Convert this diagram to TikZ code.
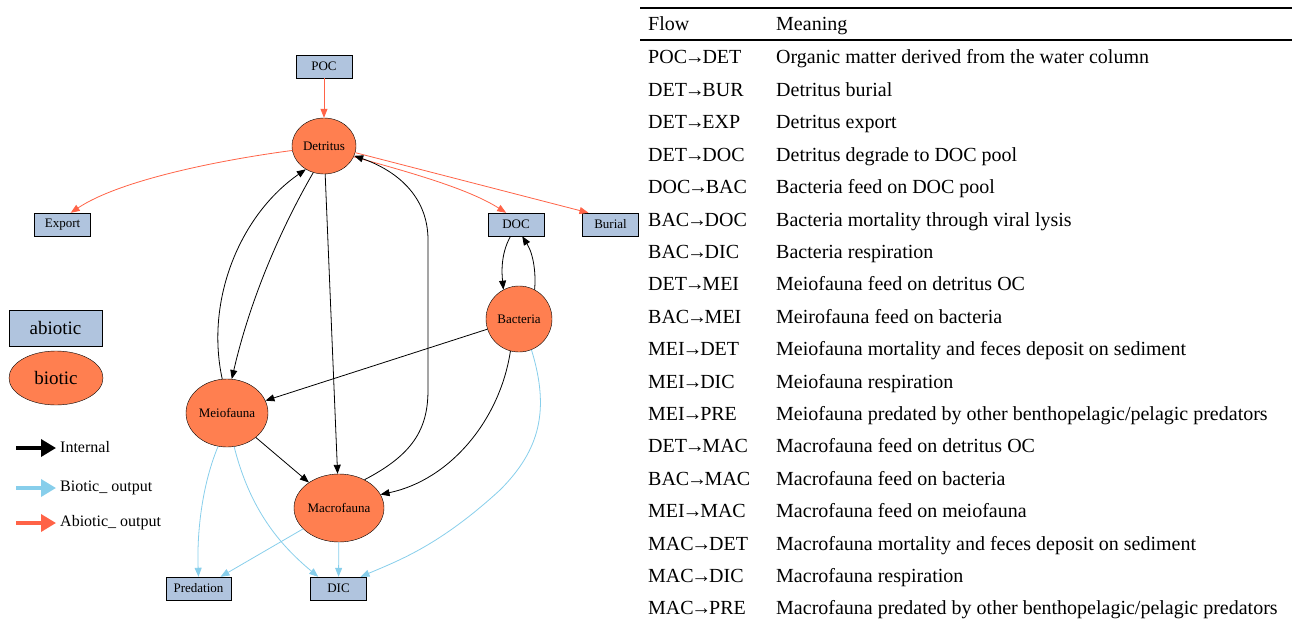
\documentclass[tikz,border=0pt]{standalone}
\usepackage{fontspec}
\setmainfont{Liberation Serif}
\usetikzlibrary{shapes.geometric,arrows.meta}
\definecolor{boxblue}{HTML}{B0C4DE}
\definecolor{biofill}{HTML}{FF7F50}
\definecolor{abiored}{HTML}{FF6347}
\definecolor{bioblue}{HTML}{87CEEB}
\newcommand{\flowto}[2]{#1\kern-2.3pt→\kern-2.3pt#2}
\tikzset{
  abio/.style={draw, fill=boxblue, rectangle, minimum width=56, minimum height=23, inner sep=0, font=\fontsize{13}{15}\selectfont},
  bio/.style={draw, fill=biofill, ellipse, inner sep=0, font=\fontsize{13}{15}\selectfont},
  arr/.style={-{Triangle[length=9,width=7]}, line width=0.8},
  internal/.style={arr, black},
  abioout/.style={arr, abiored},
  bioout/.style={arr, bioblue},
  legarr/.style={-{Triangle[length=15,width=17]}, line width=3.5},
  legtxt/.style={anchor=west, inner sep=0, font=\fontsize{16}{18}\selectfont},
  tab/.style={anchor=base west, inner sep=0, font=\fontsize{20}{22}\selectfont},
}
\begin{document}
\begin{tikzpicture}[x=1pt,y=-1pt]
\useasboundingbox (0,0) rectangle (1292,623);

% nodes
\node[abio] (poc) at (324,66.5) {POC};
\node[bio, minimum width=64, minimum height=56] (det) at (324,146) {Detritus};
\node[abio] (exp) at (62.5,224.5) {Export};
\node[abio] (doc) at (516,224.5) {DOC};
\node[abio] (bur) at (610.5,224.5) {Burial};
\node[bio, minimum width=66, minimum height=66] (bac) at (519,319) {Bacteria};
\node[bio, minimum width=82, minimum height=68] (meio) at (227,413) {Meiofauna};
\node[bio, minimum width=90, minimum height=68] (mac) at (339,508) {Macrofauna};
\node[abio, minimum width=65] (pred) at (198.5,588.5) {Predation};
\node[abio] (dic) at (338.5,588.5) {DIC};

% legend
\node[draw, fill=boxblue, rectangle, minimum width=93, minimum height=36, inner sep=0, font=\fontsize{19}{21}\selectfont] (labio) at (55.5,328) {abiotic};
\node[draw, fill=biofill, ellipse, minimum width=94, minimum height=54, inner sep=0, font=\fontsize{19}{21}\selectfont] (lbio) at (56,378) {biotic};
\coordinate (l1s) at (16,448); \coordinate (l1e) at (56,448);
\coordinate (l2s) at (16,488); \coordinate (l2e) at (56,488);
\coordinate (l3s) at (16,523); \coordinate (l3e) at (56,523);
\draw[legarr, black] (l1s) -- (l1e);
\draw[legarr, bioblue] (l2s) -- (l2e);
\draw[legarr, abiored] (l3s) -- (l3e);
\node[legtxt] (t1) at (60,447.5) {Internal};
\node[legtxt] (t2) at (60,487.5) {Biotic\_ output};
\node[legtxt] (t3) at (60,522.5) {Abiotic\_ output};

% abiotic outputs
\draw[abioout] (poc) -- (det);
\draw[abioout] (det.188) .. controls (220,160) and (120,180) .. (exp.55);
\draw[abioout] (det.-20) .. controls (420,175) and (470,190) .. (doc.130);
\draw[abioout] (det.-12) -- (bur.152);

% internal
\draw[internal] (meio.98) .. controls (205,300) and (240,215) .. (det.232);
\draw[internal] (det.248) .. controls (280,230) and (250,300) .. (meio.82);
\draw[internal] (det) -- (mac);
\draw[internal] (mac.48) .. controls (412,455) and (428,430) .. (428,390)
   -- (428,240) .. controls (428,195) and (395,170) .. (det.-18);
\draw[internal] (doc.245) .. controls (500,255) and (502,275) .. (bac.118);
\draw[internal] (bac.62) .. controls (536,275) and (534,255) .. (doc.-62);
\draw[internal] (bac) -- (meio);
\draw[internal] (bac.255) .. controls (500,420) and (450,480) .. (mac.18);
\draw[internal] (meio) -- (mac);

% biotic outputs
\draw[bioout] (meio.255) .. controls (200,490) and (197,540) .. (pred.north);
\draw[bioout] (meio.-78) .. controls (250,510) and (280,545) .. (dic.150);
\draw[bioout] (mac) -- (pred.28);
\draw[bioout] (mac) -- (dic);
\draw[bioout] (bac.-68) .. controls (550,410) and (540,450) .. (500,490) .. controls (440,545) and (400,560) .. (dic.28);

% table
\draw[line width=1.6] (640,8) -- (1292,8);
\draw[line width=1.3] (640,40) -- (1292,40);
\node[tab] (hf) at (648,31) {Flow};
\node[tab] (hm) at (776,31) {Meaning};
\node[tab] (f1) at (648,{64+32.41*0}) {\flowto{POC}{DET}};
\node[tab] (m1) at (776,{64+32.41*0}) {Organic matter derived from the water column};
\node[tab] (f2) at (648,{64+32.41*1}) {\flowto{DET}{BUR}};
\node[tab] (m2) at (776,{64+32.41*1}) {Detritus burial};
\node[tab] (f3) at (648,{64+32.41*2}) {\flowto{DET}{EXP}};
\node[tab] (m3) at (776,{64+32.41*2}) {Detritus export};
\node[tab] (f4) at (648,{64+32.41*3}) {\flowto{DET}{DOC}};
\node[tab] (m4) at (776,{64+32.41*3}) {Detritus degrade to DOC pool};
\node[tab] (f5) at (648,{64+32.41*4}) {\flowto{DOC}{BAC}};
\node[tab] (m5) at (776,{64+32.41*4}) {Bacteria feed on DOC pool};
\node[tab] (f6) at (648,{64+32.41*5}) {\flowto{BAC}{DOC}};
\node[tab] (m6) at (776,{64+32.41*5}) {Bacteria mortality through viral lysis};
\node[tab] (f7) at (648,{64+32.41*6}) {\flowto{BAC}{DIC}};
\node[tab] (m7) at (776,{64+32.41*6}) {Bacteria respiration};
\node[tab] (f8) at (648,{64+32.41*7}) {\flowto{DET}{MEI}};
\node[tab] (m8) at (776,{64+32.41*7}) {Meiofauna feed on detritus OC};
\node[tab] (f9) at (648,{64+32.41*8}) {\flowto{BAC}{MEI}};
\node[tab] (m9) at (776,{64+32.41*8}) {Meirofauna feed on bacteria};
\node[tab] (f10) at (648,{64+32.41*9}) {\flowto{MEI}{DET}};
\node[tab] (m10) at (776,{64+32.41*9}) {Meiofauna mortality and feces deposit on sediment};
\node[tab] (f11) at (648,{64+32.41*10}) {\flowto{MEI}{DIC}};
\node[tab] (m11) at (776,{64+32.41*10}) {Meiofauna respiration};
\node[tab] (f12) at (648,{64+32.41*11}) {\flowto{MEI}{PRE}};
\node[tab] (m12) at (776,{64+32.41*11}) {Meiofauna predated by other benthopelagic/pelagic predators};
\node[tab] (f13) at (648,{64+32.41*12}) {\flowto{DET}{MAC}};
\node[tab] (m13) at (776,{64+32.41*12}) {Macrofauna feed on detritus OC};
\node[tab] (f14) at (648,{64+32.41*13}) {\flowto{BAC}{MAC}};
\node[tab] (m14) at (776,{64+32.41*13}) {Macrofauna feed on bacteria};
\node[tab] (f15) at (648,{64+32.41*14}) {\flowto{MEI}{MAC}};
\node[tab] (m15) at (776,{64+32.41*14}) {Macrofauna feed on meiofauna};
\node[tab] (f16) at (648,{64+32.41*15}) {\flowto{MAC}{DET}};
\node[tab] (m16) at (776,{64+32.41*15}) {Macrofauna mortality and feces deposit on sediment};
\node[tab] (f17) at (648,{64+32.41*16}) {\flowto{MAC}{DIC}};
\node[tab] (m17) at (776,{64+32.41*16}) {Macrofauna respiration};
\node[tab] (f18) at (648,{64+32.41*17}) {\flowto{MAC}{PRE}};
\node[tab] (m18) at (776,{64+32.41*17}) {Macrofauna predated by other benthopelagic/pelagic predators};
\end{tikzpicture}
\end{document}
